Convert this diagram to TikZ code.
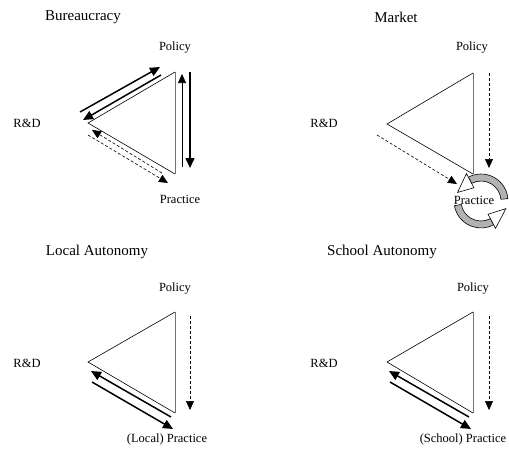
\documentclass[tikz,border=0pt]{standalone}
\usepackage{fontspec}
\setmainfont{Liberation Serif}
\usetikzlibrary{arrows.meta,calc}
\tikzset{
  tri/.style={draw=black, line width=0.6pt, line join=miter},
  triv/.style={draw=black!55, line width=0.8pt},
  thickarr/.style={line width=1.5pt, -{Triangle[length=10pt,width=9pt]}},
  thinarr/.style={line width=0.6pt, -{Triangle[length=9pt,width=8pt]}},
  dasharr/.style={line width=0.6pt, dash pattern=on 3pt off 2pt, -{Triangle[length=9pt,width=8pt]}},
  lab/.style={font=\fontsize{12.5}{14}\selectfont, inner sep=0pt},
  ttl/.style={font=\fontsize{15}{17}\selectfont, inner sep=0pt},
  band/.style={fill=black!30, draw=black, line width=0.6pt},
  head/.style={fill=white, draw=black, line width=0.6pt, line join=miter},
}
\begin{document}
\begin{tikzpicture}[x=1pt,y=-1pt]
\useasboundingbox (0,0) rectangle (509,448);

% ---------------- Bureaucracy ----------------
\node[ttl] (t1) at (83,17) {Bureaucracy};
\node[lab] (p1) at (175,48) {Policy};
\node[lab] (r1) at (27,123) {R\&D};
\node[lab] (q1) at (180,199) {Practice};
\coordinate (L1) at (88,123);
\coordinate (T1) at (175,72);
\coordinate (B1) at (175,174);
\draw[tri] (T1) -- (L1) -- (B1);
\draw[triv] (T1) -- (B1);
\coordinate (b1a) at (80,112);   \coordinate (b1b) at (160,67);
\coordinate (b1c) at (161,75);   \coordinate (b1d) at (83,120);
\coordinate (b1e) at (182,167);  \coordinate (b1f) at (182,74);
\coordinate (b1g) at (190,72);   \coordinate (b1h) at (190,168);
\coordinate (b1i) at (162,173);  \coordinate (b1j) at (92,130);
\coordinate (b1k) at (88,135);   \coordinate (b1l) at (168,183);
\draw[thickarr] (b1a) -- (b1b);
\draw[thickarr] (b1c) -- (b1d);
\draw[thinarr] (b1e) -- (b1f);
\draw[thickarr] (b1g) -- (b1h);
\draw[dasharr] (b1i) -- (b1j);
\draw[dasharr] (b1k) -- (b1l);

% ---------------- Market ----------------
\node[ttl] (t2) at (396,17) {Market};
\node[lab] (p2) at (472,48) {Policy};
\node[lab] (r2) at (324,123) {R\&D};
\coordinate (L2) at (387,124);
\coordinate (T2) at (473,73);
\coordinate (B2) at (473,174);
\draw[tri] (T2) -- (L2) -- (B2);
\draw[triv] (T2) -- (B2);
\coordinate (m2a) at (489,73);  \coordinate (m2b) at (489,168);
\coordinate (m2c) at (377,135); \coordinate (m2d) at (457,184);
\draw[dasharr] (m2a) -- (m2b);
% cycle icon (y axis points down, so angles are negated)
\coordinate (C) at (481,201);
\draw[band] ($(C)+(-5:27)$) arc[start angle=-5, end angle=-118, radius=27]
   -- ($(C)+(-118:20)$) arc[start angle=-118, end angle=-5, radius=20] -- cycle;
\draw[head] ($(C)+(-118:31)$) -- ($(C)+(-160:25)$) -- ($(C)+(-118:15)$) -- cycle;
\draw[band] ($(C)+(-190:27)$) arc[start angle=-190, end angle=-298, radius=27]
   -- ($(C)+(-298:20)$) arc[start angle=-298, end angle=-190, radius=20] -- cycle;
\draw[head] ($(C)+(-298:31)$) -- ($(C)+(-343:26)$) -- ($(C)+(-298:15)$) -- cycle;
\draw[dasharr] (m2c) -- (m2d);
\node[lab] (q2) at (474,200) {Practice};

% ---------------- Local Autonomy ----------------
\node[ttl] (t3) at (97,252) {Local Autonomy};
\node[lab] (p3) at (175,289) {Policy};
\node[lab] (r3) at (27,363) {R\&D};
\node[lab] (q3) at (167,439) {(Local) Practice};
\coordinate (L3) at (88,362);
\coordinate (T3) at (175,312);
\coordinate (B3) at (175,413);
\draw[tri] (T3) -- (L3) -- (B3);
\draw[triv] (T3) -- (B3);
\coordinate (l3a) at (190,316); \coordinate (l3b) at (190,410);
\coordinate (l3c) at (171,417); \coordinate (l3d) at (91,371);
\coordinate (l3e) at (92,382);  \coordinate (l3f) at (173,429);
\draw[dasharr] (l3a) -- (l3b);
\draw[thickarr] (l3c) -- (l3d);
\draw[thickarr] (l3e) -- (l3f);

% ---------------- School Autonomy ----------------
\node[ttl] (t4) at (382,252) {School Autonomy};
\node[lab] (p4) at (473,289) {Policy};
\node[lab] (r4) at (324,363) {R\&D};
\node[lab] (q4) at (463,439) {(School) Practice};
\coordinate (L4) at (387,362);
\coordinate (T4) at (473,312);
\coordinate (B4) at (473,413);
\draw[tri] (T4) -- (L4) -- (B4);
\draw[triv] (T4) -- (B4);
\coordinate (s4a) at (489,316); \coordinate (s4b) at (489,410);
\coordinate (s4c) at (469,417); \coordinate (s4d) at (389,371);
\coordinate (s4e) at (390,382); \coordinate (s4f) at (471,429);
\draw[dasharr] (s4a) -- (s4b);
\draw[thickarr] (s4c) -- (s4d);
\draw[thickarr] (s4e) -- (s4f);
\end{tikzpicture}
\end{document}
